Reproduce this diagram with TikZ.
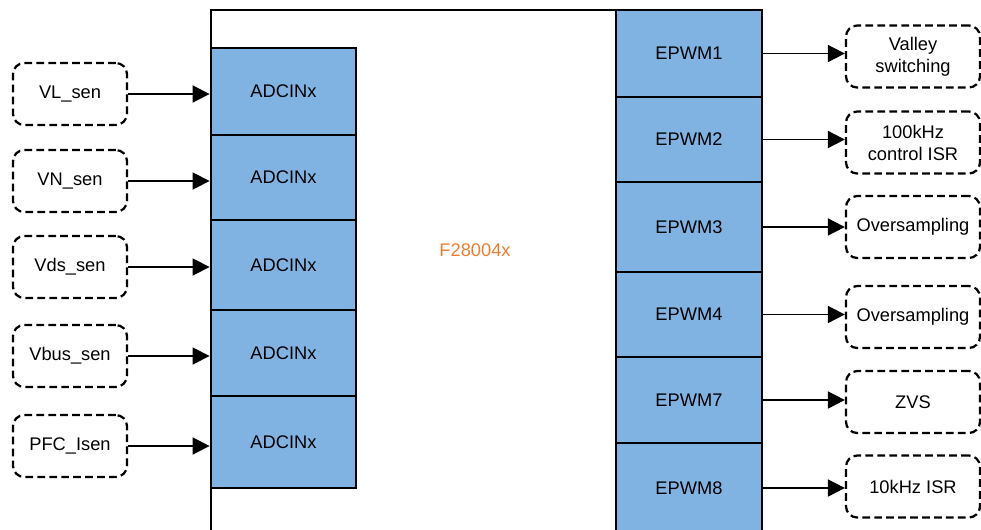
\documentclass[tikz,border=0pt]{standalone}
\usepackage{fontspec}
\setmainfont{Liberation Sans}
\usepackage{xcolor}
\usetikzlibrary{arrows.meta,positioning}
\definecolor{blockblue}{RGB}{128,179,226}
\definecolor{chiporange}{RGB}{237,125,49}
\tikzset{
  block/.style={draw,line width=1.6pt,fill=blockblue,inner sep=0pt,
    minimum width=3.64cm,font=\fontsize{13}{15.6}\selectfont},
  sigbox/.style={draw,line width=1.6pt,dashed,dash pattern=on 5.5pt off 3pt,
    rounded corners=8pt,minimum height=1.55cm,align=center,inner sep=0pt,
    font=\fontsize{13}{15.6}\selectfont},
  sigarrow/.style={line width=1.3pt,-{Triangle[length=12pt,width=12pt]}}
}
\begin{document}
\begin{tikzpicture}[x=0.025cm,y=-0.025cm]
  \clip (0,0) rectangle (981,529);
  % chip outline
  \draw[line width=1.5pt] (211,600) -- (211,10) -- (762,10) -- (762,600);
  \node[font=\fontsize{13}{15.6}\selectfont,text=chiporange] (chip) at (475,250) {F28004x};
  % ADC column
  \node[block,minimum height=2.175cm] (adc1) at (283.5,91.5) {ADCINx};
  \node[block,minimum height=2.125cm] (adc2) at (283.5,177.5) {ADCINx};
  \node[block,minimum height=2.25cm]  (adc3) at (283.5,265) {ADCINx};
  \node[block,minimum height=2.15cm]  (adc4) at (283.5,353) {ADCINx};
  \node[block,minimum height=2.3cm]   (adc5) at (283.5,442) {ADCINx};
  % EPWM column
  \node[block,minimum height=2.175cm] (pwm1) at (689,53.5) {EPWM1};
  \node[block,minimum height=2.125cm] (pwm2) at (689,139.5) {EPWM2};
  \node[block,minimum height=2.25cm]  (pwm3) at (689,227) {EPWM3};
  \node[block,minimum height=2.125cm] (pwm4) at (689,314.5) {EPWM4};
  \node[block,minimum height=2.15cm]  (pwm7) at (689,400) {EPWM7};
  \node[block,minimum height=2.25cm]  (pwm8) at (689,488) {EPWM8};
  % sensed signals
  \node[sigbox,minimum width=2.85cm] (vl)   at (70,94)  {VL\_sen};
  \node[sigbox,minimum width=2.85cm] (vn)   at (70,181) {VN\_sen};
  \node[sigbox,minimum width=2.85cm] (vds)  at (70,267) {Vds\_sen};
  \node[sigbox,minimum width=2.85cm] (vbus) at (70,356) {Vbus\_sen};
  \node[sigbox,minimum width=2.85cm] (isen) at (70,446) {PFC\_Isen};
  \draw[sigarrow] (vl.east)   -- (vl.east -| adc1.west);
  \draw[sigarrow] (vn.east)   -- (vn.east -| adc2.west);
  \draw[sigarrow] (vds.east)  -- (vds.east -| adc3.west);
  \draw[sigarrow] (vbus.east) -- (vbus.east -| adc4.west);
  \draw[sigarrow] (isen.east) -- (isen.east -| adc5.west);
  % PWM uses
  \node[sigbox,minimum width=3.35cm] (valley) at (913,56.5)  {Valley\\switching};
  \node[sigbox,minimum width=3.35cm] (ctrl)   at (913,142.5) {100kHz\\control ISR};
  \node[sigbox,minimum width=3.35cm] (ovs1)   at (913,227)   {Oversampling};
  \node[sigbox,minimum width=3.35cm] (ovs2)   at (913,317)   {Oversampling};
  \node[sigbox,minimum width=3.35cm] (zvs)    at (913,402)   {ZVS};
  \node[sigbox,minimum width=3.35cm] (slow)   at (913,486.5) {10kHz ISR};
  \draw[sigarrow] (pwm1.east) -- (pwm1.east -| valley.west);
  \draw[sigarrow] (pwm2.east) -- (pwm2.east -| ctrl.west);
  \draw[sigarrow] (pwm3.east) -- (pwm3.east -| ovs1.west);
  \draw[sigarrow] (pwm4.east) -- (pwm4.east -| ovs2.west);
  \draw[sigarrow] (pwm7.east) -- (pwm7.east -| zvs.west);
  \draw[sigarrow] (pwm8.east) -- (pwm8.east -| slow.west);
\end{tikzpicture}
\end{document}
